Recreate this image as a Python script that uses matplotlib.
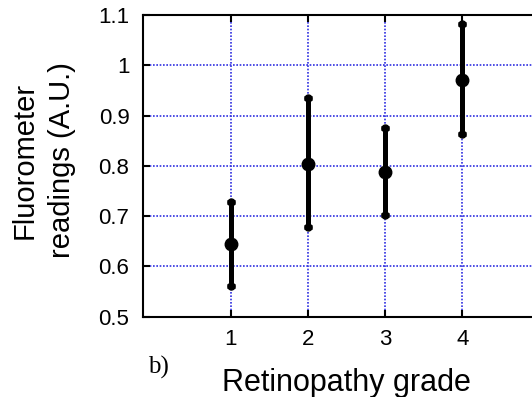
import numpy as np
import matplotlib
matplotlib.use("Agg")
import matplotlib.pyplot as plt

# values
grades = [1, 2, 3, 4]
means = [0.645, 0.804, 0.787, 0.971]
upper = [0.729, 0.935, 0.876, 1.082]
lower = [0.562, 0.678, 0.702, 0.863]
yticks = [0.5, 0.6, 0.7, 0.8, 0.9, 1.0, 1.1]
ytick_labels = ["0.5", "0.6", "0.7", "0.8", "0.9", "1", "1.1"]

plt.rcParams['font.family'] = ['Liberation Sans', 'DejaVu Sans']

fig = plt.figure(figsize=(5.32, 3.97), dpi=100)
ax = fig.add_axes([0.2694, 0.2023, 0.764, 0.760])

err = np.array([np.subtract(means, lower), np.subtract(upper, means)])
ax.errorbar(grades, means, yerr=err, fmt='o', color='black', ecolor='black',
            markersize=9, elinewidth=3.6, capsize=3.2, capthick=3.6, zorder=3)
# rounded look of the caps
ax.plot(grades, upper, 'o', color='black', ms=5, zorder=3)
ax.plot(grades, lower, 'o', color='black', ms=5, zorder=3)

ax.set_xlim(-0.13, 5.13)
ax.set_ylim(0.5, 1.1)
ax.set_xticks(grades)
ax.set_yticks(yticks)
ax.set_yticklabels(ytick_labels)

ax.grid(True, color='#2f2fe0', linestyle=(0, (1, 1)), linewidth=1.2)
ax.set_axisbelow(True)

for s in ax.spines.values():
    s.set_linewidth(1.5)
ax.tick_params(direction='in', length=5, width=1.5, top=True, right=True,
               labelsize=16, pad=9)
ax.tick_params(axis='y', pad=10)

ax.set_ylabel("Fluorometer\nreadings (A.U.)", fontsize=21, linespacing=1.45)
ax.yaxis.set_label_coords(-0.165, 0.519)
ax.set_xlabel("Retinopathy grade", fontsize=22, labelpad=13)
fig.text(0.278, 0.058, "b)", family='Liberation Serif', fontsize=18,
         va='baseline')

fig.savefig("out.png", dpi=100)
